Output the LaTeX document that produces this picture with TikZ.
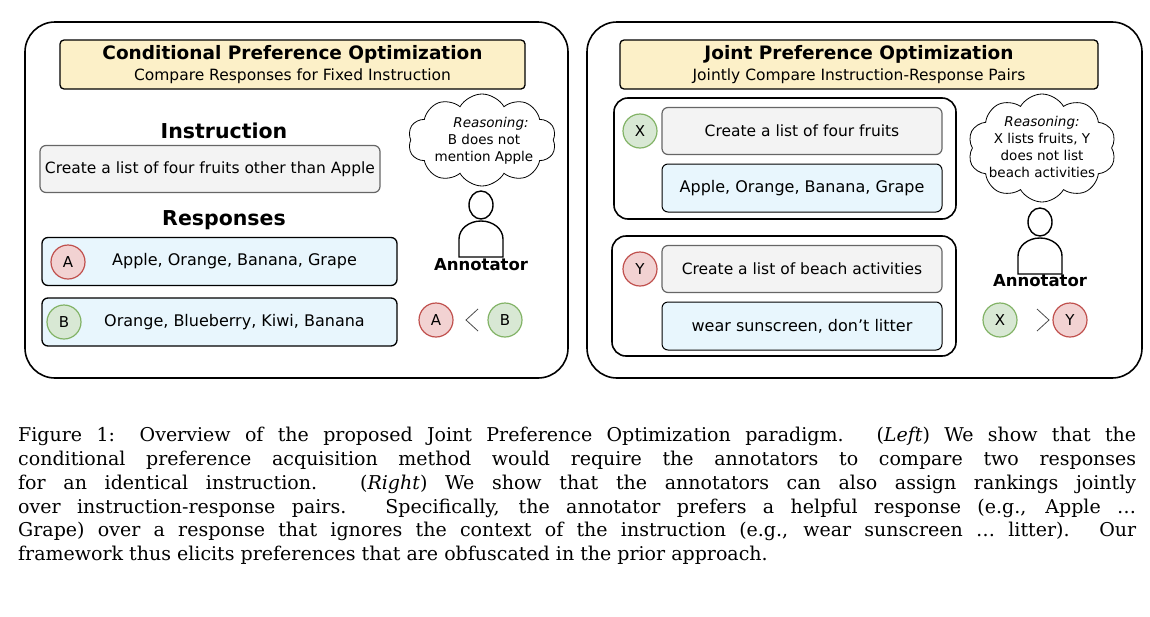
\documentclass[tikz,border=0pt]{standalone}
\usepackage{fontspec}
\setsansfont{DejaVu Sans}
\setmainfont{DejaVu Serif}
\usetikzlibrary{shapes.symbols}
\definecolor{titlefill}{HTML}{FCF0C8}
\definecolor{instfill}{HTML}{F3F3F3}
\definecolor{respfill}{HTML}{E8F6FD}
\definecolor{redfill}{HTML}{F2D2D2}
\definecolor{redline}{HTML}{C0504D}
\definecolor{greenfill}{HTML}{D8E8D4}
\definecolor{greenline}{HTML}{82B366}
\tikzset{
 panel/.style={draw, line width=1.6pt, rounded corners=30pt},
 titlebox/.style={draw, line width=1.3pt, fill=titlefill, rounded corners=4pt, minimum height=49pt, align=center, inner sep=1pt, font=\sffamily\fontsize{15.5}{21}\selectfont},
 instbox/.style={draw=black!60, line width=1.2pt, fill=instfill, rounded corners=6pt, minimum height=47pt, font=\sffamily\fontsize{15.5}{19}\selectfont},
 respbox/.style={draw, line width=1.3pt, fill=respfill, rounded corners=6pt, minimum height=48pt, font=\sffamily\fontsize{16}{19}\selectfont},
 pairbox/.style={draw, line width=1.6pt, rounded corners=14pt},
 redc/.style={circle, draw=redline, fill=redfill, line width=1.2pt, minimum size=34pt, inner sep=0pt, font=\sffamily\fontsize{15}{17}\selectfont},
 greenc/.style={circle, draw=greenline, fill=greenfill, line width=1.2pt, minimum size=34pt, inner sep=0pt, font=\sffamily\fontsize{15}{17}\selectfont},
 heading/.style={font=\sffamily\bfseries\fontsize{20.5}{24}\selectfont},
 annot/.style={font=\sffamily\bfseries\fontsize{16.5}{20}\selectfont},
 thought/.style={cloud, cloud puffs=10, cloud puff arc=120, draw, line width=0.8pt, fill=white, inner sep=0pt},
 thoughttext/.style={align=center, font=\sffamily\fontsize{13.5}{17}\selectfont},
 chev/.style={line width=0.8pt, draw=black!70},
}
\newcommand{\person}[2]{%
 \draw[line width=1.4pt] (#1,#2+14) circle[x radius=12pt, y radius=14pt];
 \draw[line width=1.4pt] (#1-22,#2+66) -- (#1-22,#2+48) arc[start angle=180, end angle=0, x radius=22pt, y radius=18pt] -- (#1+22,#2+66) -- cycle;}
\begin{document}
\begin{tikzpicture}[x=1pt,y=-1pt]
\useasboundingbox (0,0) rectangle (1150,616);
% left panel
\draw[panel] (25,22) rectangle (568,378);
\node[titlebox, minimum width=465pt] (t1) at (292.5,64.5) {\textbf{\fontsize{18.5}{21}\selectfont Conditional Preference Optimization}\\Compare Responses for Fixed Instruction};
\node[heading] (ih) at (224,131) {Instruction};
\node[instbox, minimum width=340pt] (inst) at (210,169) {Create a list of four fruits other than Apple};
\node[heading] (rh) at (224,220) {Responses};
\node[respbox, minimum width=355pt] (ra) at (219.5,261.5) {\hspace{30pt}Apple, Orange, Banana, Grape};
\node[redc] (ca) at (68,262) {A};
\node[respbox, minimum width=355pt] (rb) at (219.5,322) {\hspace{30pt}Orange, Blueberry, Kiwi, Banana};
\node[greenc] (cb) at (64,322) {B};
\node[thought, minimum width=148pt, minimum height=92pt] (th1) at (482,140) {};
\node[thoughttext] (tt1) at (484,141) {\hspace*{14pt}\textit{Reasoning:}\\B does not\\mention Apple};
\person{481}{191}
\node[annot] (an1) at (481,265) {Annotator};
\node[redc] (pa) at (436,320) {A};
\coordinate (lt) at (472,320);
\draw[chev] ([xshift=6pt,yshift=-11pt]lt) -- ([xshift=-6pt]lt) -- ([xshift=6pt,yshift=11pt]lt);
\node[greenc] (pb) at (505,320) {B};
% right panel
\draw[panel] (587,22) rectangle (1142,378);
\node[titlebox, minimum width=478pt] (t2) at (859,64.5) {\textbf{\fontsize{18.5}{21}\selectfont Joint Preference Optimization}\\Jointly Compare Instruction-Response Pairs};
\draw[pairbox] (614,98) rectangle (956,219);
\node[instbox, minimum width=280pt] (i1) at (802,131) {Create a list of four fruits};
\node[respbox, line width=1pt, minimum width=280pt] (r1) at (802,188) {Apple, Orange, Banana, Grape};
\node[greenc] (cx) at (640,131) {X};
\draw[pairbox] (612,236) rectangle (956,356);
\node[instbox, minimum width=280pt] (i2) at (802,269) {Create a list of beach activities};
\node[respbox, line width=1pt, minimum width=280pt] (r2) at (802,326) {wear sunscreen, don't litter};
\node[redc] (cy) at (640,269) {Y};
\node[thought, minimum width=148pt, minimum height=108pt] (th2) at (1042,148) {};
\node[thoughttext] (tt2) at (1042,147) {\textit{Reasoning:}\\X lists fruits, Y\\does not list\\beach activities};
\person{1040}{208}
\node[annot] (an2) at (1040,281) {Annotator};
\node[greenc] (px) at (1000,320) {X};
\coordinate (gt) at (1043,320);
\draw[chev] ([xshift=-6pt,yshift=-11pt]gt) -- ([xshift=6pt]gt) -- ([xshift=-6pt,yshift=11pt]gt);
\node[redc] (py) at (1070,320) {Y};
% caption
\node[anchor=north west, text width=1118pt, align=justify, inner sep=0pt, font=\fontsize{19}{23.8}\selectfont] (cap) at (18,427) {Figure 1: Overview of the proposed Joint Preference Optimization paradigm. (\textit{Left}) We show that the\linebreak conditional preference acquisition method would require the annotators to compare two responses\linebreak for an identical instruction. (\textit{Right}) We show that the annotators can also assign rankings jointly\linebreak over instruction-response pairs. Specifically, the annotator prefers a helpful response (e.g., Apple \ldots\linebreak Grape) over a response that ignores the context of the instruction (e.g., wear sunscreen \ldots\ litter). Our\linebreak framework thus elicits preferences that are obfuscated in the prior approach.};
\end{tikzpicture}
\end{document}
